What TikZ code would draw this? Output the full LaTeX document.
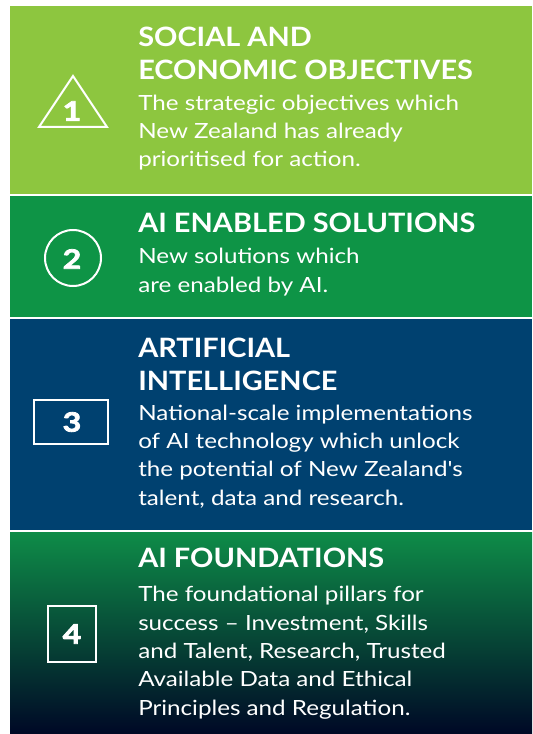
\documentclass[tikz,border=0pt]{standalone}
\usepackage{fontspec}
\setmainfont{Lato}
\newfontfamily\headfont{Lato}[FakeStretch=1.085]
\newfontfamily\bodyfont{Lato}[FakeStretch=1.155]
\newfontfamily\numfont{Lato}[FakeStretch=1.2,FakeBold=3]
\definecolor{objgreen}{RGB}{141,198,63}
\definecolor{solgreen}{RGB}{14,148,70}
\definecolor{ainavy}{RGB}{0,65,112}
\definecolor{fndtop}{RGB}{14,140,72}
\definecolor{fndbot}{RGB}{0,8,38}
\tikzset{
  headtext/.style={anchor=base west,inner sep=0pt,text=white,align=left,font=\headfont\bfseries\fontsize{20}{24.75}\selectfont},
  bodytext/.style={anchor=base west,inner sep=0pt,text=white,align=left,font=\bodyfont\fontsize{15.7}{21.2}\selectfont},
  numtext/.style={inner sep=0pt,text=white,font=\numfont\bfseries\fontsize{20}{20}\selectfont},
  iconline/.style={draw=white,line width=1.5pt}
}
\begin{document}
\begin{tikzpicture}[x=0.75pt,y=0.75pt,yscale=-1,xscale=1]
\useasboundingbox (0,0) rectangle (532,734);

%Panels
\fill [objgreen] (10,6) rectangle (532,194) ;
\fill [solgreen] (10,196) rectangle (532,317) ;
\fill [ainavy] (10,319) rectangle (532,530) ;
\shade [top color=fndtop,bottom color=fndbot] (10,532) rectangle (532,734) ;

%Icons
\draw [iconline,line join=miter] (73,76) -- (107,127) -- (39,127) -- cycle ;
\draw [iconline] (73,258) circle [radius=28] ;
\draw [iconline] (34,400) rectangle (108,444) ;
\draw [iconline] (48,606) rectangle (96,662) ;

% Text Node
\node [numtext] (n1) at (72,111) {1};
\node [numtext] (n2) at (72,259) {2};
\node [numtext] (n3) at (72,422) {3};
\node [numtext] (n4) at (72,634) {4};

% Text Node (base = last line)
\node [headtext] (h1) at (138,80) {SOCIAL AND\\ECONOMIC OBJECTIVES};
\node [bodytext] (b1) at (138,167) {The strategic objectives which\\New Zealand has already\\prioritised for action.};
% Text Node
\node [headtext] (h2) at (138,233) {AI ENABLED SOLUTIONS};
\node [bodytext] (b2) at (138,292) {New solutions which\\are enabled by AI.};
% Text Node
\node [headtext] (h3) at (138,390) {ARTIFICIAL\\INTELLIGENCE};
\node [bodytext] (b3) at (138,505) {National-scale implementations\\of AI technology which unlock\\the potential of New Zealand's\\talent, data and research.};
% Text Node
\node [headtext] (h4) at (138,567) {AI FOUNDATIONS};
\node [bodytext] (b4) at (138,715) {The foundational pillars for\\success – Investment, Skills\\and Talent, Research, Trusted\\Available Data and Ethical\\Principles and Regulation.};

\end{tikzpicture}
\end{document}
